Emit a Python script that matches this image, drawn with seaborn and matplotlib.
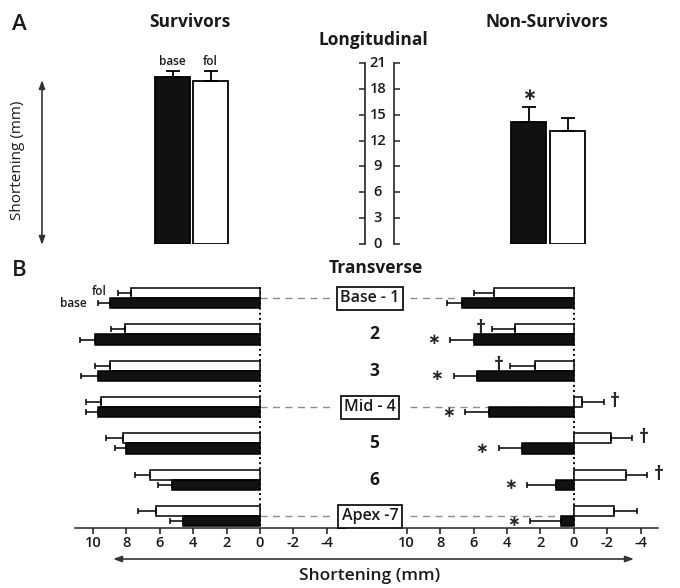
import numpy as np
import pandas as pd
import matplotlib
matplotlib.use('Agg')
import matplotlib.pyplot as plt
import seaborn as sns
from matplotlib.transforms import blended_transform_factory

# Panel A: longitudinal shortening (mm), baseline vs follow-up
times = ['base', 'fol']
long_surv = [19.4, 18.9]
long_surv_se = [0.7, 1.2]
long_nonsurv = [14.1, 13.1]
long_nonsurv_se = [1.8, 1.5]

# Panel B: transverse shortening (mm) per segment
segments = ['1', '2', '3', '4', '5', '6', '7']
seg_labels = ['Base - 1', '2', '3', 'Mid - 4', '5', '6', 'Apex -7']
seg_boxed = [True, False, False, True, False, False, True]

surv_fol = [7.7, 8.1, 9.0, 9.5, 8.2, 6.6, 6.2]
surv_fol_se = [0.8, 0.8, 0.9, 0.9, 1.0, 0.9, 1.1]
surv_base = [9.0, 9.9, 9.7, 9.7, 8.0, 5.3, 4.6]
surv_base_se = [0.7, 0.9, 1.0, 0.7, 0.7, 0.8, 0.8]

nonsurv_fol = [4.8, 3.5, 2.3, -0.5, -2.2, -3.1, -2.4]
nonsurv_fol_se = [1.2, 1.4, 1.5, 1.3, 1.3, 1.3, 1.4]
nonsurv_base = [6.7, 6.0, 5.8, 5.1, 3.1, 1.1, 0.8]
nonsurv_base_se = [0.9, 1.4, 1.4, 1.4, 1.4, 1.7, 1.8]

# significance marks for non-survivors (* vs survivors, † vs baseline)
star_base = [False, True, True, True, True, True, True]
dagger_fol = [False, True, True, True, True, True, False]

xticks_b = [10, 8, 6, 4, 2, 0, -2, -4]

sns.set_style('white')
plt.rcParams['font.family'] = ['Open Sans', 'DejaVu Sans']
plt.rcParams['axes.unicode_minus'] = False

W, H = 680, 588
fig = plt.figure(figsize=(W / 100, H / 100), dpi=100)
ink = '#1a1a1a'


def px_axes(x0, y0, x1, y1):
    return fig.add_axes([x0 / W, 1 - y1 / H, (x1 - x0) / W, (y1 - y0) / H])


pal = {'base': '#111111', 'fol': 'white'}

# ---------- Panel A ----------
def long_bars(ax, vals, se):
    df = pd.DataFrame({'time': times, 'value': vals})
    sns.barplot(data=df, x='time', y='value', hue='time', palette=pal,
                edgecolor='black', linewidth=1.3, width=0.92, errorbar=None,
                legend=False, ax=ax)
    ax.errorbar([0, 1], vals, yerr=[[0, 0], se], fmt='none', ecolor='black',
                elinewidth=1.3, capsize=5, capthick=1.3, zorder=3)
    ax.set_ylim(0, 21)
    ax.set_xlim(-0.5, 1.5)
    ax.axis('off')


ax_s = px_axes(153.5, 63, 229.5, 244)
long_bars(ax_s, long_surv, long_surv_se)
for i, t in enumerate(times):
    ax_s.annotate(t, xy=(i, long_surv[i] + long_surv_se[i]), xytext=(0, 2),
                  textcoords='offset points', ha='center', va='bottom',
                  fontsize=8.5, fontweight='semibold', color=ink)

ax_n = px_axes(509, 63, 587, 244)
long_bars(ax_n, long_nonsurv, long_nonsurv_se)
ax_n.annotate('∗', xy=(0, long_nonsurv[0] + long_nonsurv_se[0]), xytext=(0, 2),
              textcoords='offset points', ha='center', va='bottom', fontsize=12,
              fontweight='bold', family='DejaVu Sans')

# middle scale
ax_m = px_axes(365, 63, 394, 244)
ax_m.set_ylim(0, 21)
ax_m.set_yticks(range(0, 22, 3))
ax_m.set_xticks([])
ax_m.patch.set_alpha(0)
for side in ['top', 'bottom']:
    ax_m.spines[side].set_visible(False)
for side in ['left', 'right']:
    ax_m.spines[side].set_linewidth(1.2)
ax_m.tick_params(axis='y', left=True, right=True, labelleft=False,
                 labelright=False, direction='out', length=4, width=1.1)
for v in range(0, 22, 3):
    ax_m.text(0.45, v, str(v), transform=ax_m.get_yaxis_transform(),
              ha='center', va='center', fontsize=10.5, fontweight='semibold',
              color=ink)

# ---------- Panel B ----------
rows = np.arange(len(segments))


def transverse(ax, fol, fol_se, base, base_se, xlim):
    df = pd.DataFrame({'segment': segments * 2,
                       'time': ['fol'] * 7 + ['base'] * 7,
                       'value': fol + base})
    sns.barplot(data=df, x='value', y='segment', hue='time',
                hue_order=['fol', 'base'], orient='h', palette=pal,
                edgecolor='black', linewidth=1.1, width=0.56, errorbar=None,
                legend=False, ax=ax, zorder=2)
    for vals, se, off in [(fol, fol_se, -0.14), (base, base_se, 0.14)]:
        v = np.array(vals)
        s = np.array(se)
        upper = np.where(v >= 0, s, 0)
        lower = np.where(v < 0, s, 0)
        ax.errorbar(v, rows + off, xerr=[lower, upper], fmt='none',
                    ecolor='black', elinewidth=1.1, capsize=2.5, capthick=1.1,
                    zorder=3)
    ax.vlines(0, -0.3, 6.33, colors='black', linestyles=':', lw=1.4, zorder=1)
    ax.set_xlim(*xlim)
    ax.set_ylim(6.33, -0.5)
    ax.set_xticks(xticks_b)
    ax.set_xticklabels([str(t) for t in xticks_b], fontweight='semibold')
    ax.set_yticks([])
    ax.set_xlabel('')
    ax.set_ylabel('')
    ax.patch.set_alpha(0)
    for side in ['top', 'left', 'right']:
        ax.spines[side].set_visible(False)
    ax.spines['bottom'].set_linewidth(1.1)
    ax.tick_params(axis='x', bottom=True, direction='out', length=4, width=1.1,
                   labelsize=10.5, pad=2, colors=ink)


ax_l = px_axes(75, 280, 345, 528)
transverse(ax_l, surv_fol, surv_fol_se, surv_base, surv_base_se, (11.08, -5.09))
ax_r = px_axes(390, 280, 658, 528)
transverse(ax_r, nonsurv_fol, nonsurv_fol_se, nonsurv_base, nonsurv_base_se,
           (11.0, -5.03))

# fol / base labels on the first survivor row
ax_l.annotate('fol', xy=(surv_fol[0] + surv_fol_se[0], -0.14), xytext=(-8, 1),
              textcoords='offset points', ha='right', va='center', fontsize=8.5,
              fontweight='semibold', color=ink)
ax_l.annotate('base', xy=(surv_base[0] + surv_base_se[0], 0.14), xytext=(-8, 0),
              textcoords='offset points', ha='right', va='center', fontsize=8.5,
              fontweight='semibold', color=ink)

# significance marks
for i in rows:
    if star_base[i]:
        end = nonsurv_base[i] + nonsurv_base_se[i]
        ax_r.annotate('∗', xy=(end, i + 0.14), xytext=(-12, 0),
                      textcoords='offset points', ha='center', va='center',
                      fontsize=11, fontweight='bold', family='DejaVu Sans',
                      annotation_clip=False)
    if dagger_fol[i]:
        v = nonsurv_fol[i]
        end = v + nonsurv_fol_se[i] if v >= 0 else v - nonsurv_fol_se[i]
        direction = -1 if v >= 0 else 1
        ax_r.annotate('†', xy=(end, i - 0.14), xytext=(direction * 8, 0),
                      textcoords='offset points', ha='center', va='center',
                      fontsize=14, fontweight='bold', annotation_clip=False)

# segment labels and dashed connectors
blend = blended_transform_factory(fig.transFigure, ax_l.transData)
for i, lab in enumerate(seg_labels):
    if seg_boxed[i]:
        ax_l.text(370 / W, i, lab, transform=blend, ha='center', va='center',
                  fontsize=11.5, fontweight='semibold', color=ink, clip_on=False,
                  bbox=dict(boxstyle='square,pad=0.22', fc='white', ec='black',
                            lw=1.2))
        ax_l.plot([0, -4.19], [i, i], color='#8c8c8c', ls=(0, (5, 4)), lw=1,
                  zorder=0.5)
        ax_r.plot([9.82, 0], [i, i], color='#8c8c8c', ls=(0, (5, 4)), lw=1,
                  zorder=0.5)
    else:
        ax_l.text(374 / W, i, lab, transform=blend, ha='center', va='center',
                  fontsize=12.5, fontweight='bold', color=ink, clip_on=False)

# ---------- overlay text and arrows ----------
ov = fig.add_axes([0, 0, 1, 1])
ov.set_xlim(0, W)
ov.set_ylim(H, 0)
ov.axis('off')
ov.set_zorder(-1)

ov.text(19, 25, 'A', fontsize=16, fontweight='semibold', ha='center',
        va='center', color=ink)
ov.text(19, 271, 'B', fontsize=16, fontweight='semibold', ha='center',
        va='center', color=ink)
ov.text(190, 22, 'Survivors', fontsize=12.5, fontweight='bold', ha='center',
        va='center', color=ink)
ov.text(547, 22, 'Non-Survivors', fontsize=12.5, fontweight='bold', ha='center',
        va='center', color=ink)
ov.text(373, 40, 'Longitudinal', fontsize=12.5, fontweight='bold', ha='center',
        va='center', color=ink)
ov.text(376, 268, 'Transverse', fontsize=12.5, fontweight='bold', ha='center',
        va='center', color=ink)
ov.text(18, 160, 'Shortening (mm)', fontsize=11, rotation=90, ha='center',
        va='center', color=ink)
ov.text(370, 576, 'Shortening (mm)', fontsize=12.5, fontweight='semibold',
        ha='center', va='center', color=ink)

arrow = dict(arrowstyle='<|-|>,head_length=0.5,head_width=0.18', color='#333',
             lw=1.2, shrinkA=0, shrinkB=0)
ov.annotate('', xy=(42, 80), xytext=(42, 245), arrowprops=arrow)
ov.annotate('', xy=(113, 559), xytext=(634, 559), arrowprops=arrow)

fig.savefig('out.png', dpi=100)
